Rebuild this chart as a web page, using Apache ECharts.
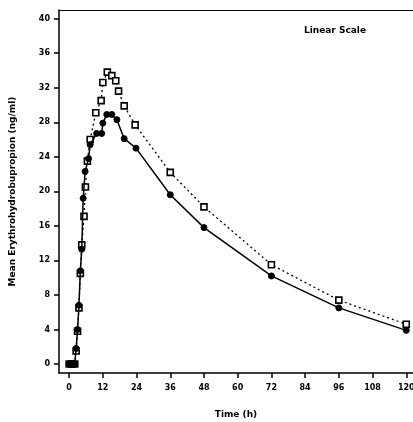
<!DOCTYPE html>
<html><head><meta charset="utf-8">
<script src="https://cdn.jsdelivr.net/npm/echarts@6/dist/echarts.min.js"></script>
<style>html,body{margin:0;padding:0;background:#fff}#c{width:413px;height:422px}</style>
</head><body><div id="c"></div>
<script>
const xTicks = [0,12,24,36,48,60,72,84,96,108,120];
const yTicks = [0,4,8,12,16,20,24,28,32,36,40];
const solidTimes = [0,1,2,2.5,3,3.5,4,4.5,5,5.7,6.9,7.5,9.8,11.6,12,13.4,15.2,17,19.6,23.8,36,48,72,96,120];
const solidValues = [0,0,0,1.8,4,6.8,10.8,13.3,19.2,22.3,23.8,25.4,26.7,26.7,27.9,28.9,28.9,28.3,26.1,25.0,19.6,15.8,10.2,6.5,3.9];
const dashTimes = [0,1,2,2.5,3,3.5,4,4.5,5.3,5.8,6.5,7.5,9.5,11.4,12,13.6,15.2,16.6,17.6,19.6,23.5,36,48,72,96,120];
const dashValues = [0,0,0,1.5,3.8,6.5,10.5,13.8,17.1,20.5,23.5,26.0,29.1,30.5,32.6,33.8,33.4,32.8,31.6,29.9,27.7,22.2,18.2,11.5,7.4,4.6];
const titleText = 'Linear Scale';
const xName = 'Time (h)';
const yName = 'Mean Erythrohydrobupropion (ng/ml)';

const pair = (t, v) => t.map((x, i) => [x, v[i]]);
const font = 'DejaVu Sans';
const lbl = {fontFamily: font, fontSize: 8, fontWeight: 'bold', color: '#000'};
const chart = echarts.init(document.getElementById('c'), null, {renderer: 'canvas'});
chart.setOption({
  animation: false,
  backgroundColor: '#fff',
  title: {text: titleText, right: 42, top: 21, textStyle: {fontFamily: font, fontSize: 9, fontWeight: 'bold', color: '#000'}},
  grid: {left: 59, right: 0, top: 10, bottom: 49, containLabel: false, outerBoundsMode: 'none'},
  xAxis: [{
    type: 'value', min: -3.6, max: 122.4,
    name: xName, nameLocation: 'middle', nameGap: 37,
    nameTextStyle: {fontFamily: font, fontSize: 9, fontWeight: 'bold', color: '#000'},
    axisLine: {onZero: false, lineStyle: {color: '#000', width: 1.5}},
    axisTick: {show: true, length: 5, customValues: xTicks, lineStyle: {color: '#000', width: 1.5}},
    axisLabel: {show: true, customValues: xTicks, margin: 11, showMinLabel: true, showMaxLabel: true, hideOverlap: false, ...lbl},
    splitLine: {show: false}
  }, {
    type: 'value', min: -3.6, max: 122.4, position: 'top',
    axisLine: {show: true, onZero: false, lineStyle: {color: '#000', width: 1.2}},
    axisTick: {show: false}, axisLabel: {show: false}, splitLine: {show: false}
  }],
  yAxis: {
    type: 'value', min: -1.04, max: 41,
    name: yName, nameLocation: 'middle', nameGap: 42, nameRotate: 90,
    nameTextStyle: {fontFamily: font, fontSize: 9, fontWeight: 'bold', color: '#000'},
    axisLine: {show: true, onZero: false, lineStyle: {color: '#000', width: 1.5}},
    axisTick: {show: true, length: 5, customValues: yTicks, lineStyle: {color: '#000', width: 1.5}},
    axisLabel: {show: true, customValues: yTicks, margin: 9, ...lbl},
    splitLine: {show: false}
  },
  series: [
    {
      type: 'line', data: pair(solidTimes, solidValues),
      symbol: 'circle', symbolSize: 6,
      lineStyle: {color: '#000', width: 1.5},
      itemStyle: {color: '#000', borderColor: '#000'}, z: 5
    },
    {
      type: 'line', data: pair(dashTimes, dashValues),
      symbol: 'rect', symbolSize: 6,
      lineStyle: {color: '#000', width: 1.3, type: [2, 3]},
      itemStyle: {color: '#fff', borderColor: '#000', borderWidth: 1.6}, z: 4
    }
  ]
});
</script></body></html>
